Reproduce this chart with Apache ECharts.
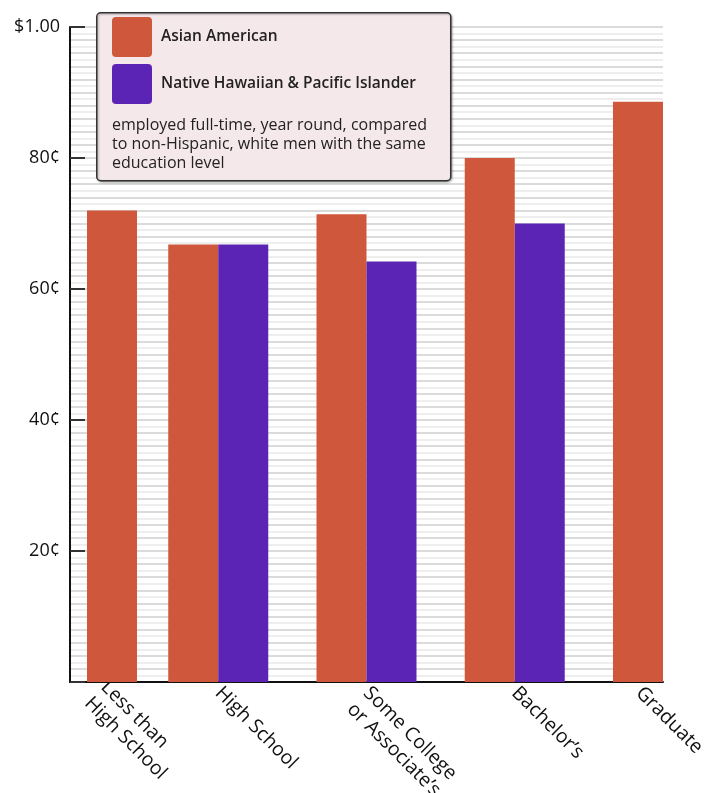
<!DOCTYPE html>
<html>
<head>
<meta charset="utf-8">
<title>Earnings by education</title>
<script src="https://cdn.jsdelivr.net/npm/echarts@6/dist/echarts.min.js"></script>
<style>
  html, body {margin: 0; padding: 0; background: #fff;}
  #chart {width: 715px; height: 793px;}
</style>
</head>
<body>
<div id="chart"></div>
<script>
// categories + values (cents on the dollar)
const categories = ['Less than\nHigh School', 'High School', 'Some College\nor Associate’s', 'Bachelor’s', 'Graduate']
const asianAmerican = [72.0, 66.8, 71.4, 80.0, 88.6]
const nativeHawaiian = [null, 66.8, 64.2, 70.0, null]
const yTicks = [20, 40, 60, 80, 100]
const yTickLabels = ['20¢', '40¢', '60¢', '80¢', '$1.00']
const seriesNames = ['Asian American', 'Native Hawaiian & Pacific Islander']
const note = 'employed full-time, year round, compared\nto non-Hispanic, white men with the same\neducation level'

const colors = ['#cf573b', '#5c24b4']
const font = '"Open Sans", "Noto Sans", sans-serif'
const swatch = 'path://M4,0H36Q40,0 40,4V36Q40,40 36,40H4Q0,40 0,36V4Q0,0 4,0Z'

const chart = echarts.init(document.getElementById('chart'))

const labelStyle = {
  rotate: -45,
  fontSize: 19.5,
  fontFamily: font,
  color: '#111',
  margin: 8,
  lineHeight: 23,
}

// keep first line of two-line labels on the tick, pull the last label back in
const tickLabel = (v, i) => {
  if (i === 0) return ''
  if (i === categories.length - 1) return '{last|' + v + '}'
  return v.indexOf('\n') > -1 ? '\n' + v : v
}

chart.setOption({
  animation: false,
  color: colors,
  textStyle: {fontFamily: font},
  grid: [
    {left: 70, right: 52, top: 27, bottom: 111, outerBoundsMode: 'none'},
    // first category sits on its own strip, nudged right of the axis
    {left: 87, width: 50, top: 27, bottom: 111, outerBoundsMode: 'none'},
  ],
  xAxis: [
    {
      type: 'category',
      gridIndex: 0,
      data: categories,
      boundaryGap: false,
      axisLine: {lineStyle: {color: '#111', width: 2}},
      axisTick: {show: false},
      axisLabel: {
        ...labelStyle,
        interval: 0,
        formatter: tickLabel,
        rich: {
          last: {fontSize: 19.5, fontFamily: font, color: '#111', lineHeight: 23, padding: [34, 0, 0, -17]},
        },
      },
    },
    {
      type: 'category',
      gridIndex: 1,
      data: categories.slice(0, 1),
      axisLine: {show: false},
      axisTick: {show: false},
      axisLabel: {...labelStyle, interval: 0, verticalAlign: 'top', margin: -6},
    },
  ],
  yAxis: [
    {
      type: 'value',
      gridIndex: 0,
      min: 0,
      max: 100,
      interval: 20,
      axisLine: {show: true, lineStyle: {color: '#111', width: 2}},
      axisTick: {show: true, inside: true, length: 15, lineStyle: {color: '#333', width: 2}},
      axisLabel: {
        fontSize: 18,
        fontFamily: font,
        color: '#111',
        margin: 10,
        padding: [9, 0, 0, 0],
        formatter: (v) => yTickLabels[yTicks.indexOf(v)] || '',
      },
      splitLine: {show: false},
      z: 3,
    },
    {
      type: 'value',
      gridIndex: 1,
      min: 0,
      max: 100,
      show: false,
    },
    {
      // fine 1¢ rules behind the bars
      type: 'value',
      gridIndex: 0,
      min: 0,
      max: 100,
      interval: 1,
      axisLine: {show: false},
      axisTick: {show: false},
      axisLabel: {show: false},
      splitLine: {show: true, lineStyle: {color: ['#cfcfcf', '#e9e9e9'], width: 1.5}},
    },
  ],
  legend: {
    orient: 'vertical',
    left: 112,
    top: 17,
    padding: 0,
    itemWidth: 40,
    itemHeight: 40,
    itemGap: 7,
    icon: swatch,
    data: seriesNames,
    selectedMode: false,
    z: 6,
    textStyle: {fontSize: 15.5, fontWeight: 600, color: '#222', fontFamily: font, padding: [0, 0, 0, 4]},
  },
  graphic: [
    {
      type: 'rect',
      left: 96,
      top: 12,
      z: 5,
      shape: {width: 354, height: 168, r: 4},
      style: {fill: '#f5e8ea', stroke: '#333', lineWidth: 1.5, shadowBlur: 2, shadowOffsetX: 1, shadowOffsetY: 1, shadowColor: 'rgba(0,0,0,0.3)'},
    },
    {
      type: 'text',
      left: 112,
      top: 116,
      z: 100,
      style: {text: note, fontSize: 16, lineHeight: 19, fill: '#222', fontFamily: font},
    },
  ],
  series: [
    {
      name: seriesNames[0],
      type: 'bar',
      xAxisIndex: 0,
      yAxisIndex: 0,
      barWidth: 50,
      barGap: '0%',
      data: asianAmerican.map((v, i) => i === 0 ? null : v),
    },
    {
      name: seriesNames[1],
      type: 'bar',
      xAxisIndex: 0,
      yAxisIndex: 0,
      barWidth: 50,
      barGap: '0%',
      data: nativeHawaiian,
    },
    {
      name: seriesNames[0],
      type: 'bar',
      xAxisIndex: 1,
      yAxisIndex: 1,
      barWidth: 50,
      itemStyle: {color: colors[0]},
      data: asianAmerican.slice(0, 1),
    },
  ],
})
</script>
</body>
</html>
